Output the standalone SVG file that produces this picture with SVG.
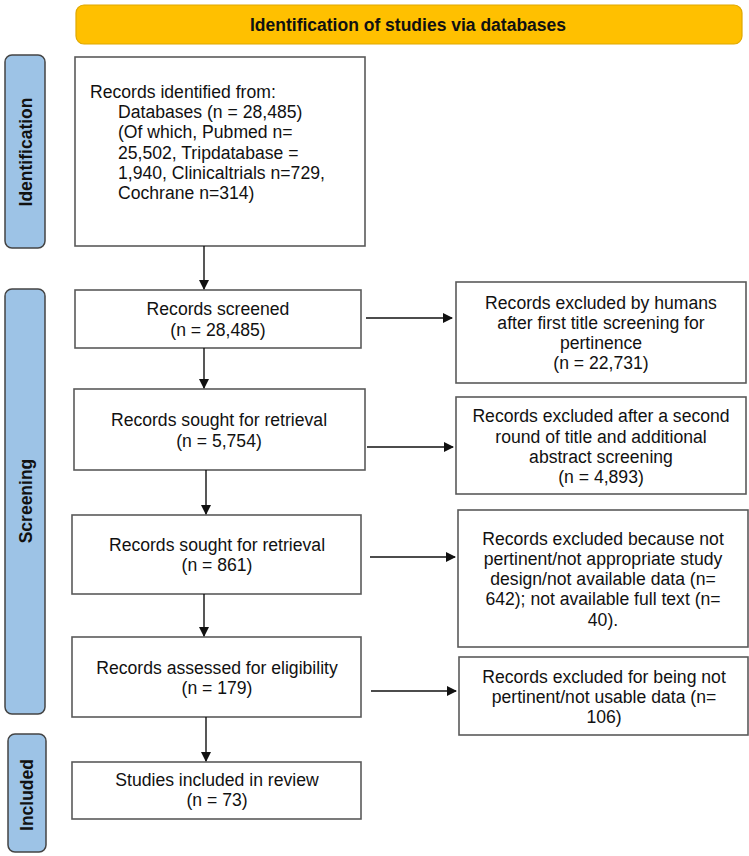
<svg xmlns="http://www.w3.org/2000/svg" width="749" height="856" viewBox="0 0 749 856">
<defs>
<marker id="arr" markerWidth="10" markerHeight="10" refX="9" refY="5" orient="auto" markerUnits="userSpaceOnUse">
<path d="M0,0 L10,5 L0,10 Z" fill="#111"/>
</marker>
<style>
.box{fill:#fff;stroke:#5a5a5a;stroke-width:1.6}
.side{fill:#9DC3E6;stroke:#444;stroke-width:1.5}
.t{font-family:"Liberation Sans",Arial,sans-serif;font-size:17.6px;fill:#111}
.c{text-anchor:middle}
.lab{font-family:"Liberation Sans",Arial,sans-serif;font-size:17.5px;font-weight:bold;fill:#111;text-anchor:middle}
.con{stroke:#111;stroke-width:1.4;fill:none;marker-end:url(#arr)}
</style>
</defs>
<rect width="749" height="856" fill="#fff"/>
<g id="banner">
<rect x="76" y="5" width="666" height="39" rx="8" fill="#FFC000" stroke="#E0A800" stroke-width="1.2"/>
<text class="lab" x="408" y="31">Identification of studies via databases</text>
</g>
<g id="lab-identification">
<rect class="side" x="5" y="55" width="40" height="193" rx="7"/>
<text class="lab" transform="translate(32,152) rotate(-90)">Identification</text>
</g>
<g id="lab-screening">
<rect class="side" x="5" y="289" width="40" height="425" rx="7"/>
<text class="lab" transform="translate(32,501) rotate(-90)">Screening</text>
</g>
<g id="lab-included">
<rect class="side" x="8" y="734" width="38" height="118" rx="7"/>
<text class="lab" transform="translate(33,795) rotate(-90)">Included</text>
</g>
<g id="n-identified">
<rect class="box" x="75" y="57" width="290" height="189"/>
<text class="t" x="90" y="98">Records identified from:</text>
<text class="t" x="118" y="118">Databases (n = 28,485)</text>
<text class="t" x="118" y="138">(Of which, Pubmed n=</text>
<text class="t" x="118" y="159">25,502, Tripdatabase =</text>
<text class="t" x="118" y="179">1,940, Clinicaltrials n=729,</text>
<text class="t" x="118" y="199">Cochrane n=314)</text>
</g>
<g id="n-screened">
<rect class="box" x="75" y="290" width="286" height="58"/>
<text class="t c" x="218" y="315">Records screened</text>
<text class="t c" x="218" y="336">(n = 28,485)</text>
</g>
<g id="n-excl1">
<rect class="box" x="456" y="282" width="290" height="101"/>
<text class="t c" x="601" y="309">Records excluded by humans</text>
<text class="t c" x="601" y="329">after first title screening for</text>
<text class="t c" x="601" y="349">pertinence</text>
<text class="t c" x="601" y="369">(n = 22,731)</text>
</g>
<g id="n-sought1">
<rect class="box" x="74" y="389" width="291" height="81"/>
<text class="t c" x="219" y="426">Records sought for retrieval</text>
<text class="t c" x="219" y="447">(n = 5,754)</text>
</g>
<g id="n-excl2">
<rect class="box" x="456" y="397" width="290" height="97"/>
<text class="t c" x="601" y="422">Records excluded after a second</text>
<text class="t c" x="601" y="443">round of title and additional</text>
<text class="t c" x="601" y="463">abstract screening</text>
<text class="t c" x="601" y="483">(n = 4,893)</text>
</g>
<g id="n-sought2">
<rect class="box" x="72" y="515" width="289" height="79"/>
<text class="t c" x="217" y="551">Records sought for retrieval</text>
<text class="t c" x="217" y="571">(n = 861)</text>
</g>
<g id="n-excl3">
<rect class="box" x="458" y="510" width="290" height="137"/>
<text class="t c" x="603" y="545">Records excluded because not</text>
<text class="t c" x="603" y="565">pertinent/not appropriate study</text>
<text class="t c" x="603" y="585">design/not available data (n=</text>
<text class="t c" x="603" y="605">642); not available full text (n=</text>
<text class="t c" x="603" y="626">40).</text>
</g>
<g id="n-eligibility">
<rect class="box" x="72" y="637" width="289" height="80"/>
<text class="t c" x="217" y="674">Records assessed for eligibility</text>
<text class="t c" x="217" y="694">(n = 179)</text>
</g>
<g id="n-excl4">
<rect class="box" x="459" y="657" width="289" height="78"/>
<text class="t c" x="604" y="683">Records excluded for being not</text>
<text class="t c" x="604" y="703">pertinent/not usable data (n=</text>
<text class="t c" x="604" y="723">106)</text>
</g>
<g id="n-included">
<rect class="box" x="72" y="762" width="289" height="57"/>
<text class="t c" x="217" y="786">Studies included in review</text>
<text class="t c" x="217" y="806">(n = 73)</text>
</g>
<g id="connectors">
<line class="con" x1="204" y1="246" x2="204" y2="289"/>
<line class="con" x1="204" y1="348" x2="204" y2="388"/>
<line class="con" x1="206" y1="470" x2="206" y2="514"/>
<line class="con" x1="204" y1="594" x2="204" y2="636"/>
<line class="con" x1="206" y1="717" x2="206" y2="761"/>
<line class="con" x1="366" y1="318" x2="452" y2="318"/>
<line class="con" x1="367" y1="447" x2="453" y2="447"/>
<line class="con" x1="370" y1="557" x2="455" y2="557"/>
<line class="con" x1="371" y1="691" x2="456" y2="691"/>
</g>
</svg>
